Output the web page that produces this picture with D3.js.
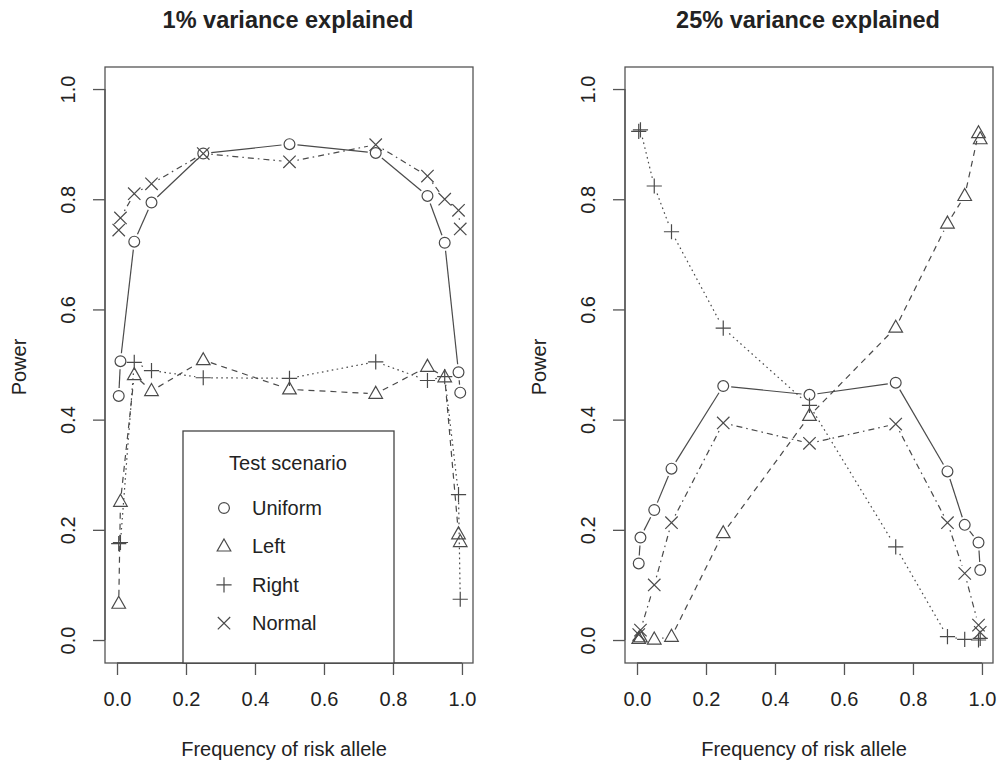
<!DOCTYPE html>
<html><head><meta charset="utf-8">
<script src="https://cdn.jsdelivr.net/npm/d3@7"></script>
<style>body{margin:0;background:#fff}svg{display:block}text{font-family:"Liberation Sans",Arial,sans-serif;fill:#222}</style>
</head><body><svg id="c" width="999" height="767"></svg>
<script>
const freq = [0.005, 0.01, 0.05, 0.1, 0.25, 0.5, 0.75, 0.9, 0.95, 0.99, 0.995];
const seriesNames = ["Uniform", "Left", "Right", "Normal"];
const panelTitles = ["1% variance explained", "25% variance explained"];
const xTicks = [0, 0.2, 0.4, 0.6, 0.8, 1.0];
const yTicks = [0, 0.2, 0.4, 0.6, 0.8, 1.0];
// panel 1 (1% variance)
const p1Uniform = [0.443, 0.506, 0.723, 0.794, 0.883, 0.900, 0.884, 0.806, 0.721, 0.486, 0.449];
const p1Left    = [0.066, 0.251, 0.481, 0.452, 0.508, 0.455, 0.447, 0.496, 0.477, 0.192, 0.178];
const p1Right   = [0.175, 0.177, 0.504, 0.489, 0.476, 0.475, 0.505, 0.471, 0.478, 0.264, 0.074];
const p1Normal  = [0.744, 0.766, 0.810, 0.828, 0.883, 0.868, 0.899, 0.842, 0.800, 0.780, 0.746];
// panel 2 (25% variance)
const p2Uniform = [0.139, 0.186, 0.236, 0.311, 0.461, 0.445, 0.467, 0.306, 0.209, 0.177, 0.127];
const p2Left    = [0.002, 0.005, 0.001, 0.006, 0.194, 0.407, 0.567, 0.756, 0.806, 0.920, 0.909];
const p2Right   = [0.923, 0.926, 0.824, 0.741, 0.566, 0.426, 0.169, 0.006, 0.001, 0.000, 0.003];
const p2Normal  = [0.010, 0.018, 0.100, 0.213, 0.394, 0.357, 0.392, 0.213, 0.121, 0.027, 0.014];

const panels = [
  {title: panelTitles[0], series: [p1Uniform, p1Left, p1Right, p1Normal], left: 105, legend: true},
  {title: panelTitles[1], series: [p2Uniform, p2Left, p2Right, p2Normal], left: 625, legend: false}
];
const boxW = 368, plotTop = 67, plotBottom = 663;
const dashes = [null, "6,5", "1.6,3.4", "1.6,4,6,4"];
const stroke = "#4a4a4a";
const fontFam = '"Liberation Sans",Arial,sans-serif';
const svg = d3.select("#c");

function marker(g, type, x, y) {
  const s = 6.2;
  if (type === 0) g.append("circle").attr("cx", x).attr("cy", y).attr("r", 5.4).attr("fill", "none").attr("stroke", stroke).attr("stroke-width", 1.2);
  else if (type === 1) {
    const h = 7.4;
    g.append("path").attr("d", `M${x},${y - h}L${x + 6.8},${y + h * 0.62}L${x - 6.8},${y + h * 0.62}Z`).attr("fill", "none").attr("stroke", stroke).attr("stroke-width", 1.2);
  } else if (type === 2) {
    g.append("path").attr("d", `M${x - 7.6},${y}H${x + 7.6}M${x},${y - 7.6}V${y + 7.6}`).attr("stroke", stroke).attr("stroke-width", 1.2);
  } else {
    g.append("path").attr("d", `M${x - s},${y - s}L${x + s},${y + s}M${x - s},${y + s}L${x + s},${y - s}`).attr("stroke", stroke).attr("stroke-width", 1.2);
  }
}

panels.forEach(p => {
  const x = d3.scaleLinear().domain([-0.0348, 1.032]).range([p.left, p.left + boxW]);
  const y = d3.scaleLinear().domain([-0.0417, 1.04]).range([plotBottom, plotTop]);
  const g = svg.append("g");
  g.append("text").attr("x", p.left + boxW / 2 - 1).attr("y", 28).attr("text-anchor", "middle")
    .attr("font-size", 23.5).attr("font-weight", "bold").text(p.title);
  g.append("rect").attr("x", p.left).attr("y", plotTop).attr("width", boxW).attr("height", plotBottom - plotTop)
    .attr("fill", "none").attr("stroke", "#555").attr("stroke-width", 1.3);
  const xa = g.append("g").attr("transform", `translate(0,${plotBottom})`)
    .call(d3.axisBottom(x).tickValues(xTicks).tickFormat(d3.format(".1f")).tickSize(12).tickPadding(17));
  xa.select(".domain").attr("d", `M${x(0)},0H${x(1)}`).attr("stroke", "#555").attr("stroke-width", 1.3);
  xa.selectAll(".tick line").attr("stroke", "#555").attr("stroke-width", 1.3);
  xa.selectAll("text").attr("font-size", 20).attr("fill", "#222").style("font-family", fontFam);
  const ya = g.append("g").attr("transform", `translate(${p.left},0)`)
    .call(d3.axisLeft(y).tickValues(yTicks).tickFormat(d3.format(".1f")).tickSize(12).tickPadding(0));
  ya.select(".domain").attr("d", `M0,${y(0)}V${y(1)}`).attr("stroke", "#555").attr("stroke-width", 1.3);
  ya.selectAll(".tick line").attr("stroke", "#555").attr("stroke-width", 1.3);
  ya.selectAll("text").attr("font-size", 20).attr("fill", "#222").attr("x", 0).attr("dy", null)
    .attr("text-anchor", "middle").attr("transform", "translate(-35,0) rotate(-90)").attr("y", 0)
    .attr("dominant-baseline", "middle").style("font-family", fontFam);
  g.append("text").attr("x", p.left + boxW / 2 - 5).attr("y", 756).attr("text-anchor", "middle").attr("font-size", 20).text("Frequency of risk allele");
  g.append("text").attr("transform", `translate(${p.left - 79},${(plotTop + plotBottom) / 2 + 2}) rotate(-90)`).attr("text-anchor", "middle").attr("font-size", 20).text("Power");

  p.series.forEach((vals, si) => {
    const pts = freq.map((f, i) => [x(f), y(vals[i])]);
    const gap = 8;
    for (let i = 0; i < pts.length - 1; i++) {
      const [x0, y0] = pts[i], [x1, y1] = pts[i + 1];
      const dx = x1 - x0, dy = y1 - y0, L = Math.hypot(dx, dy);
      if (L <= 2 * gap) continue;
      const ux = dx / L, uy = dy / L;
      const path = d3.path();
      path.moveTo(x0 + ux * gap, y0 + uy * gap);
      path.lineTo(x1 - ux * gap, y1 - uy * gap);
      g.append("path").attr("d", path.toString()).attr("fill", "none").attr("stroke", stroke)
        .attr("stroke-width", 1.2).attr("stroke-dasharray", dashes[si]);
    }
    pts.forEach(pt => marker(g, si, pt[0], pt[1]));
  });

  if (p.legend) {
    const lx = 183, ly = 431, lw = 211;
    g.append("rect").attr("x", lx).attr("y", ly).attr("width", lw).attr("height", plotBottom - ly)
      .attr("fill", "#fff").attr("stroke", "#444").attr("stroke-width", 1.3);
    g.append("text").attr("x", 288).attr("y", 470).attr("text-anchor", "middle").attr("font-size", 20).text("Test scenario");
    seriesNames.forEach((n, i) => {
      const yy = 508 + i * 38.4;
      marker(g, i, 224, yy);
      g.append("text").attr("x", 252).attr("y", yy + 7).attr("font-size", 20).text(n);
    });
  }
});
</script></body></html>
